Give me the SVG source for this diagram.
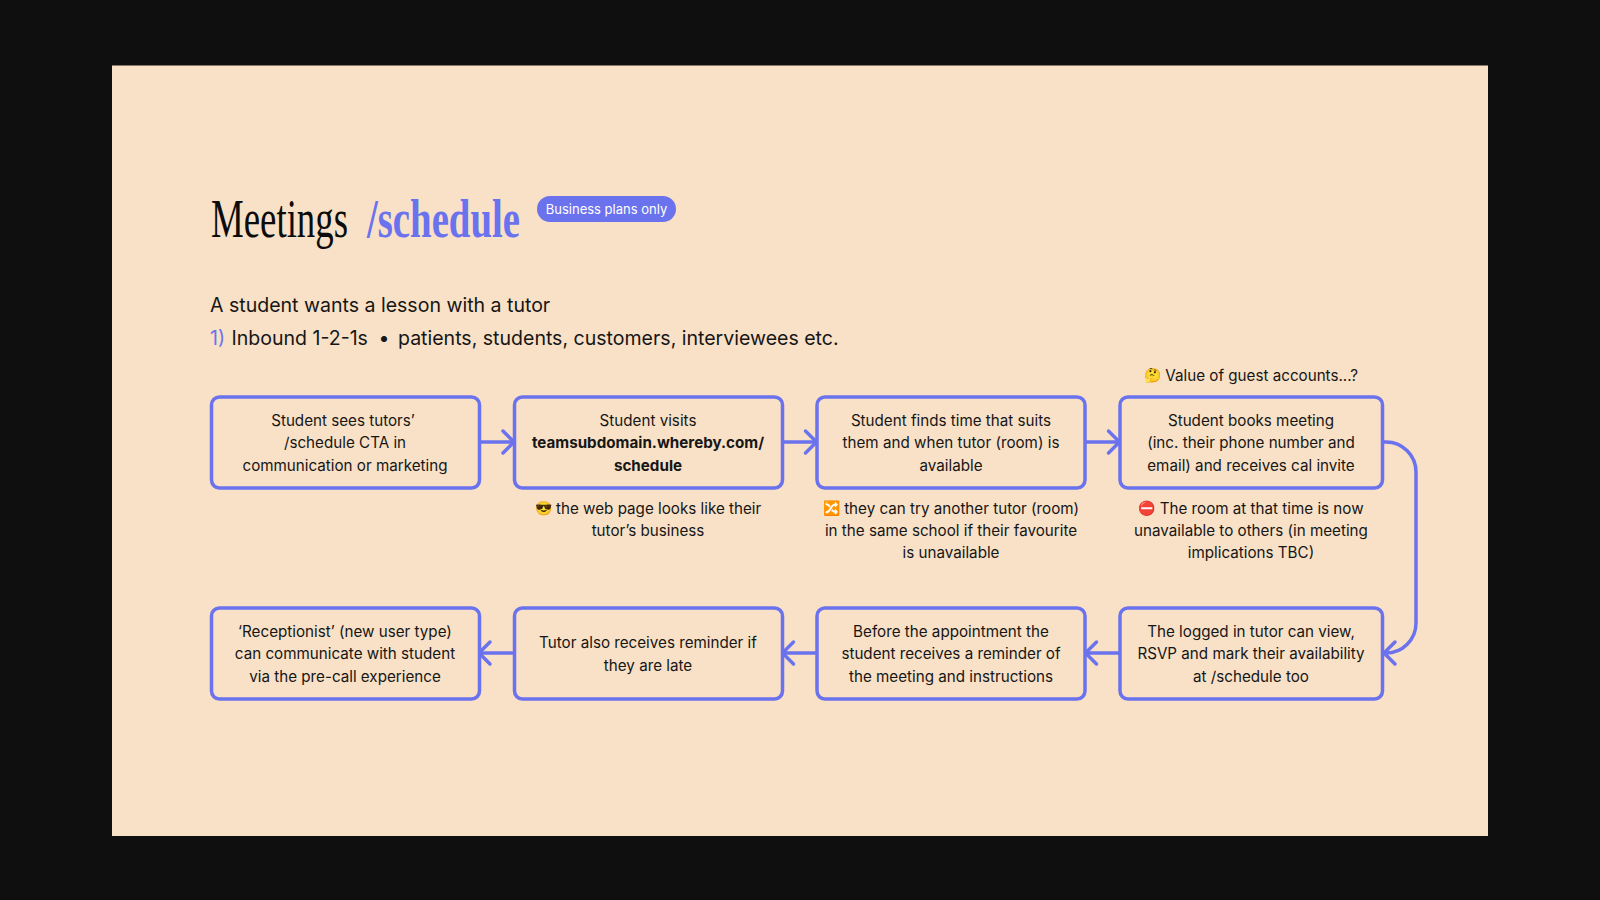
<svg xmlns="http://www.w3.org/2000/svg" width="1600" height="900" viewBox="0 0 1600 900">
<style>
text{font-family:Inter,"Noto Sans",sans-serif;fill:#161616}
.t{font-size:15.200px;text-anchor:middle}
.e{font-size:14px}
.b{fill:#f8e1c6;stroke:#6b72ee;stroke-width:3.5}
.c{fill:none;stroke:#6b72ee;stroke-width:3.5;marker-end:url(#arr)}
.h{font-family:"Liberation Serif",serif;font-size:54px}
.s{font-size:19.550px}
</style>
<defs><marker id="arr" markerUnits="userSpaceOnUse" markerWidth="30" markerHeight="30" refX="14" refY="14" orient="auto" overflow="visible"><path d="M3 3L14 14L3 25" fill="none" stroke="#6b72ee" stroke-width="3.5" stroke-linecap="round" stroke-linejoin="round"/></marker></defs>
<rect width="1600" height="900" fill="#0f0f10"/>
<rect x="112" y="65.500" width="1376" height="770.500" fill="#f8e1c6"/>
<g id="title">
<text class="h" x="211" y="237" textLength="137" lengthAdjust="spacingAndGlyphs" style="fill:#0c0c0c">Meetings</text>
<text class="h" x="367" y="237" textLength="153" lengthAdjust="spacingAndGlyphs" style="fill:#6b72ee;font-weight:bold">/schedule</text>
</g>
<g id="badge"><rect x="537" y="196" width="139" height="26" rx="13" fill="#6b72ee"/><text x="606.500" y="213.700" font-size="13" text-anchor="middle" style="fill:#fff">Business plans only</text></g>
<g id="intro">
<text class="s" x="210" y="312">A student wants a lesson with a tutor</text>
<text class="s" x="210" y="345" style="fill:#6b72ee">1)</text>
<text class="s" x="231.500" y="345">Inbound 1-2-1s</text>
<text class="s" x="378.500" y="345">•</text>
<text class="s" x="398" y="345">patients, students, customers, interviewees etc.</text>
</g>
<g id="connectors">
<path class="c" d="M479 442H514"/>
<path class="c" d="M782.500 442H816.500"/>
<path class="c" d="M1085.500 442H1119.500"/>
<path class="c" d="M1382.500 442H1386A30 30 0 0 1 1416 472V623A30 30 0 0 1 1386 653H1384"/>
<path class="c" d="M1119.500 653H1085.500"/>
<path class="c" d="M816.500 653H782.500"/>
<path class="c" d="M514 653H479"/>
</g>
<g id="n1"><rect class="b" x="211.500" y="397" width="268" height="91" rx="8"/><text class="t" x="343" y="425.500">Student sees tutors’</text><text class="t" x="345" y="448.300">/schedule CTA in</text><text class="t" x="345" y="471">communication or marketing</text></g>
<g id="n2"><rect class="b" x="514.500" y="397" width="268" height="91" rx="8"/><text class="t" x="648" y="425.500">Student visits</text><text class="t" x="648" y="448.300" font-weight="bold">teamsubdomain.whereby.com/</text><text class="t" x="648" y="471" font-weight="bold">schedule</text></g>
<g id="n3"><rect class="b" x="817" y="397" width="268" height="91" rx="8"/><text class="t" x="951" y="425.500">Student finds time that suits</text><text class="t" x="951" y="448.300">them and when tutor (room) is</text><text class="t" x="951" y="471">available</text></g>
<g id="n4"><rect class="b" x="1120" y="397" width="262.500" height="91" rx="8"/><text class="t" x="1251" y="425.500">Student books meeting</text><text class="t" x="1251" y="448.300">(inc. their phone number and</text><text class="t" x="1251" y="471">email) and receives cal invite</text></g>
<g id="n5"><rect class="b" x="1120" y="608" width="262.500" height="91" rx="8"/><text class="t" x="1251" y="636.500">The logged in tutor can view,</text><text class="t" x="1251" y="659">RSVP and mark their availability</text><text class="t" x="1251" y="681.700">at /schedule too</text></g>
<g id="n6"><rect class="b" x="817" y="608" width="268" height="91" rx="8"/><text class="t" x="951" y="636.500">Before the appointment the</text><text class="t" x="951" y="659">student receives a reminder of</text><text class="t" x="951" y="681.700">the meeting and instructions</text></g>
<g id="n7"><rect class="b" x="514.500" y="608" width="268" height="91" rx="8"/><text class="t" x="648" y="648">Tutor also receives reminder if</text><text class="t" x="648" y="670.500">they are late</text></g>
<g id="n8"><rect class="b" x="211.500" y="608" width="268" height="91" rx="8"/><text class="t" x="345" y="636.500">‘Receptionist’ (new user type)</text><text class="t" x="345" y="659">can communicate with student</text><text class="t" x="345" y="681.700">via the pre-call experience</text></g>
<g id="notes">
<text class="t" x="1251" y="381"><tspan class="e" dy="-1">🤔</tspan><tspan dy="1"> Value of guest accounts...?</tspan></text>
<text class="t" x="648" y="514"><tspan class="e" dy="-1">😎</tspan><tspan dy="1"> the web page looks like their</tspan></text><text class="t" x="648" y="536">tutor’s business</text>
<text class="t" x="951" y="514"><tspan class="e" dy="-1">🔀</tspan><tspan dy="1"> they can try another tutor (room)</tspan></text><text class="t" x="951" y="536">in the same school if their favourite</text><text class="t" x="951" y="557.500">is unavailable</text>
<text class="t" x="1251" y="514"><tspan class="e" dy="-1">⛔</tspan><tspan dy="1"> The room at that time is now</tspan></text><text class="t" x="1251" y="536">unavailable to others (in meeting</text><text class="t" x="1251" y="557.500">implications TBC)</text>
</g>
</svg>
